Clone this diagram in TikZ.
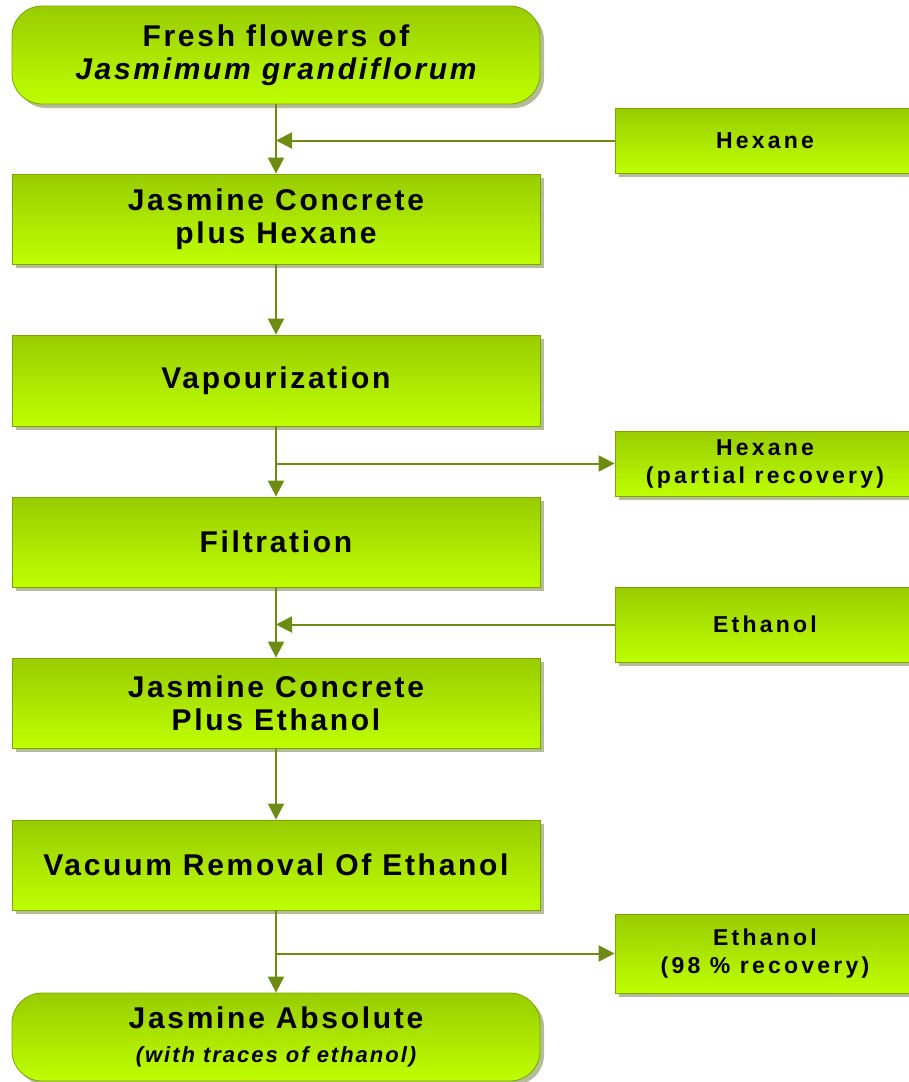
\documentclass[tikz,border=0pt]{standalone}
\usepackage{fontspec}
\newfontfamily\mainf{Liberation Sans}[LetterSpace=9]
\newfontfamily\sidef{Liberation Sans}[LetterSpace=14]
\usetikzlibrary{shadows,arrows.meta}
\definecolor{gtop}{RGB}{153,204,0}
\definecolor{gbot}{RGB}{190,255,0}
\definecolor{gedge}{RGB}{125,165,0}
\definecolor{gline}{RGB}{110,140,20}
\definecolor{gshadow}{RGB}{150,160,110}
\begin{document}
\begin{tikzpicture}[x=1pt,y=-1pt,
  basebox/.style={draw=gedge, line width=0.8pt, top color=gtop, bottom color=gbot,
    drop shadow={shadow xshift=4pt, shadow yshift=-4pt, fill=gshadow, opacity=0.7},
    align=center, inner sep=0pt, text=black},
  mainbox/.style={basebox, minimum width=528pt, font=\mainf\bfseries\fontsize{30}{33}\selectfont},
  sidebox/.style={basebox, minimum width=300pt, font=\sidef\bfseries\fontsize{23}{28}\selectfont},
  conn/.style={draw=gline, line width=2pt, -{Triangle[length=16pt,width=16pt]}, fill=gline}]
\useasboundingbox (0,0) rectangle (909,1082);
\node[mainbox, rounded corners=30pt, minimum height=98pt] (n1) at (276,55) {Fresh flowers of\\{\itshape Jasmimum grandiflorum}};
\node[mainbox, minimum height=90pt] (n2) at (276,219) {Jasmine Concrete\\plus Hexane};
\node[mainbox, minimum height=91pt] (n3) at (276,380.5) {Vapourization};
\node[mainbox, minimum height=90pt] (n4) at (276,542) {Filtration};
\node[mainbox, minimum height=90pt] (n5) at (276,703) {Jasmine Concrete\\Plus Ethanol};
\node[mainbox, minimum height=90pt] (n6) at (276,865) {Vacuum Removal Of Ethanol};
\node[mainbox, rounded corners=30pt, minimum height=88pt] (n7) at (276,1037) {Jasmine Absolute\\[1pt]{\fontsize{22}{24}\selectfont\itshape (with traces of ethanol)}};
\node[sidebox, minimum height=65pt] (s1) at (765,140.5) {Hexane};
\node[sidebox, minimum height=65pt] (s2) at (765,463.5) {Hexane\\(partial recovery)};
\node[sidebox, minimum height=75pt] (s3) at (765,624.5) {Ethanol};
\node[sidebox, minimum height=79pt] (s4) at (765,953.5) {Ethanol\\(98 \% recovery)};
\draw[conn] (n1) -- (n2);
\draw[conn] (n2) -- (n3);
\draw[conn] (n3) -- (n4);
\draw[conn] (n4) -- (n5);
\draw[conn] (n5) -- (n6);
\draw[conn] (n6) -- (n7);
\draw[conn] (s1.west) -- (s1.west -| n1.south);
\draw[conn] (s2.west -| n3.south) -- (s2.west);
\draw[conn] (s3.west) -- (s3.west -| n4.south);
\draw[conn] (s4.west -| n6.south) -- (s4.west);
\end{tikzpicture}
\end{document}
